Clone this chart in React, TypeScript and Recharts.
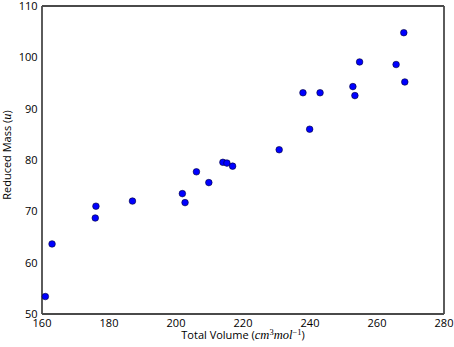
import React from "react";
import { ScatterChart, Scatter, XAxis, YAxis } from "recharts";

const totalVolume = [161.0, 163.0, 175.9, 176.1, 187.0, 201.9, 202.7, 206.1, 209.8, 214.0, 215.2, 216.9, 230.8, 237.9, 239.9, 243.0, 252.8, 253.4, 254.8, 265.7, 268.0, 268.3];
const reducedMass = [53.4, 63.65, 68.7, 71.0, 72.0, 73.45, 71.7, 77.7, 75.6, 79.55, 79.4, 78.8, 82.0, 93.1, 86.0, 93.1, 94.3, 92.55, 99.1, 98.6, 104.8, 95.2];
const xTicks = [160, 180, 200, 220, 240, 260, 280];
const yTicks = [50, 60, 70, 80, 90, 100, 110];
const xDomain = [160, 280];
const yDomain = [50, 110];

const data = totalVolume.map((v, i) => ({ x: v, y: reducedMass[i] }));

const FONT = "'Open Sans', sans-serif";
const MATH = "'Liberation Serif', serif";
const FRAME = "#4a4a4a";

const Dot = (props: any) => {
  const { cx, cy } = props;
  if (cx == null || cy == null) return <g />;
  return <circle cx={cx} cy={cy} r={3.3} fill="#0000ff" stroke="#000033" strokeWidth={0.6} />;
};
const NoDot = () => <g />;

const XLabel = (props: any) => {
  const vb = props.viewBox || {};
  const cx = vb.x + vb.width / 2;
  return (
    <text x={cx} y={339} textAnchor="middle" fontFamily={FONT} fontSize={11} fill="#000">
      <tspan>Total Volume (</tspan>
      <tspan fontFamily={MATH} fontStyle="italic" fontSize={12.5}>cm</tspan>
      <tspan fontFamily={MATH} fontSize={8.5} dy={-4.5}>3</tspan>
      <tspan fontFamily={MATH} fontStyle="italic" fontSize={12.5} dy={4.5}>mol</tspan>
      <tspan fontFamily={MATH} fontSize={8.5} dy={-4.5}>−1</tspan>
      <tspan dy={4.5}>)</tspan>
    </text>
  );
};

const YLabel = (props: any) => {
  const vb = props.viewBox || {};
  const cy = vb.y + vb.height / 2 - 5;
  const x = 11;
  return (
    <text x={x} y={cy} transform={`rotate(-90, ${x}, ${cy})`} textAnchor="middle" fontFamily={FONT} fontSize={11} fill="#000">
      <tspan>Reduced Mass (</tspan>
      <tspan fontFamily={MATH} fontStyle="italic" fontSize={12.5}>u</tspan>
      <tspan>)</tspan>
    </text>
  );
};

const tickStyle = { fontFamily: FONT, fontSize: 11, fill: "#000" };

export default function App() {
  return (
    <div style={{ position: "absolute", left: 0, top: 0, background: "#fff" }}>
      <ScatterChart width={454} height={347} margin={{ top: 6, right: 10, bottom: 0, left: 0 }}>
        {/* labelled axes (left / bottom) */}
        <XAxis
          xAxisId="main"
          type="number"
          dataKey="x"
          domain={xDomain}
          ticks={xTicks}
          interval={0}
          height={33}
          tickSize={0}
          tickMargin={5}
          tickLine={false}
          tick={tickStyle}
          axisLine={{ stroke: FRAME, strokeWidth: 1.8 }}
          label={{ content: XLabel }}
        />
        <YAxis
          yAxisId="main"
          type="number"
          dataKey="y"
          domain={yDomain}
          ticks={yTicks}
          interval={0}
          width={42}
          tickSize={0}
          tickMargin={4.5}
          tickLine={false}
          tick={tickStyle}
          axisLine={{ stroke: FRAME, strokeWidth: 1.8 }}
          label={{ content: YLabel }}
        />
        {/* inward tick marks on left / bottom */}
        <XAxis
          xAxisId="bm"
          type="number"
          dataKey="x"
          domain={xDomain}
          ticks={xTicks}
          interval={0}
          mirror
          height={1}
          tickSize={4}
          tick={false}
          axisLine={false}
          tickLine={{ stroke: "#777" }}
        />
        <YAxis
          yAxisId="lm"
          type="number"
          dataKey="y"
          domain={yDomain}
          ticks={yTicks}
          interval={0}
          mirror
          width={1}
          tickSize={4}
          tick={false}
          axisLine={false}
          tickLine={{ stroke: "#777" }}
        />
        {/* frame + inward ticks on top / right */}
        <XAxis
          xAxisId="tm"
          orientation="top"
          type="number"
          dataKey="x"
          domain={xDomain}
          ticks={xTicks}
          interval={0}
          mirror
          height={1}
          tickSize={4}
          tick={false}
          axisLine={{ stroke: FRAME, strokeWidth: 1.8 }}
          tickLine={{ stroke: "#777" }}
        />
        <YAxis
          yAxisId="rm"
          orientation="right"
          type="number"
          dataKey="y"
          domain={yDomain}
          ticks={yTicks}
          interval={0}
          mirror
          width={1}
          tickSize={4}
          tick={false}
          axisLine={{ stroke: FRAME, strokeWidth: 1.8 }}
          tickLine={{ stroke: "#777" }}
        />
        <Scatter xAxisId="bm" yAxisId="lm" data={data} shape={NoDot} isAnimationActive={false} />
        <Scatter xAxisId="tm" yAxisId="rm" data={data} shape={NoDot} isAnimationActive={false} />
        <Scatter xAxisId="main" yAxisId="main" data={data} shape={Dot} isAnimationActive={false} />
      </ScatterChart>
    </div>
  );
}
